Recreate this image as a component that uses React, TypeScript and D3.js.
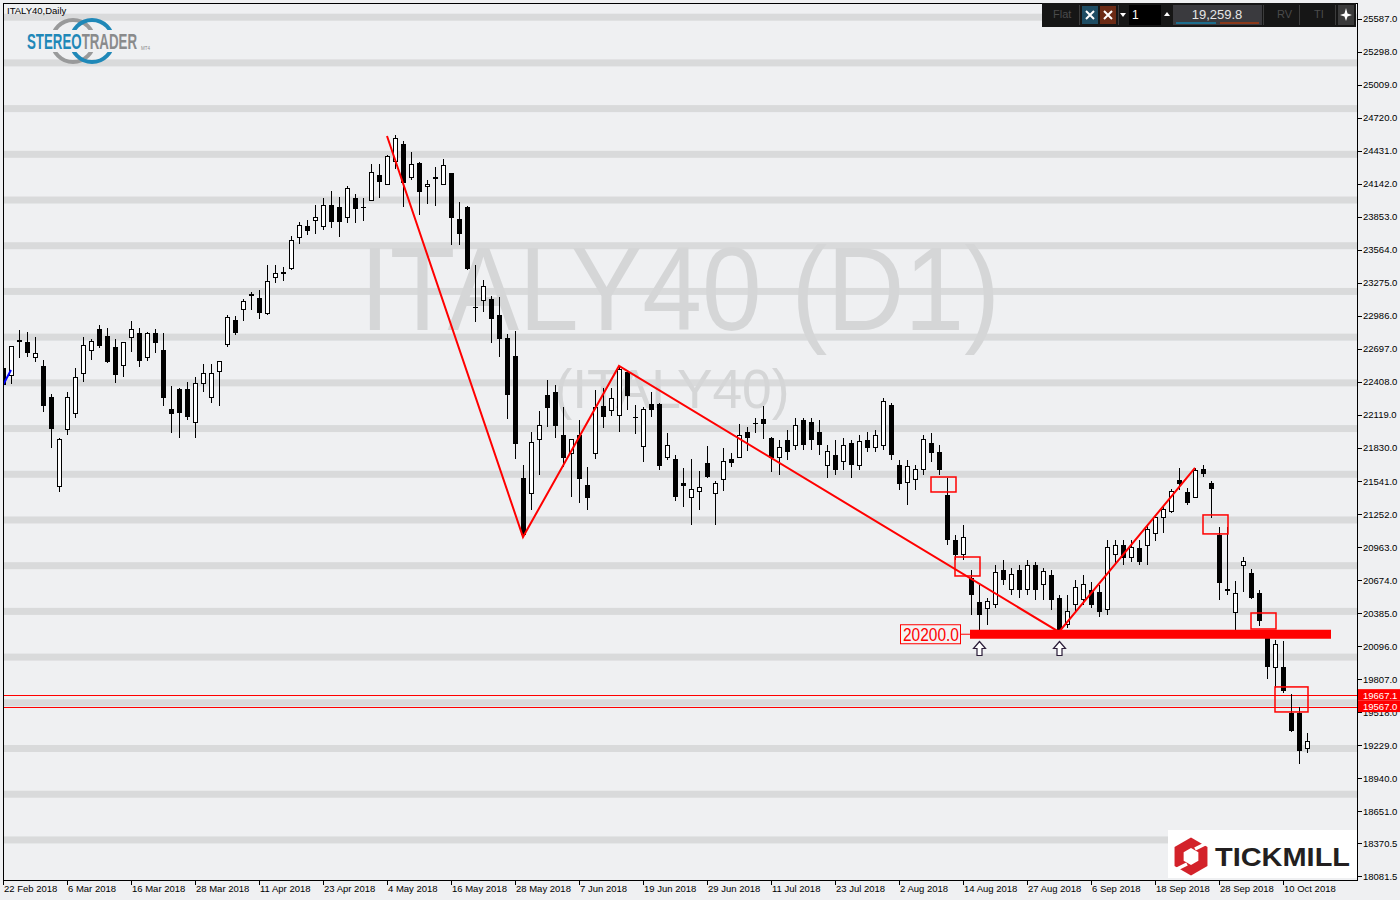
import React, { useEffect, useRef } from 'react';
import * as d3 from 'd3';

// daily OHLC, ITALY40, 22 Feb 2018 .. 15 Oct 2018
const opens = [
  22530, 22460, 22766, 22757, 22626, 22548, 22276, 21489, 21988, 22136,
  22486, 22679, 22871, 22810, 22714, 22556, 22801, 22836, 22626, 22836,
  22688, 22171, 22346, 22346, 22049, 22390, 22268, 22495, 22740, 22950,
  23038, 23178, 23143, 23011, 23326, 23353, 23405, 23676, 23773, 23825,
  23764, 23956, 23939, 23843, 24018, 23939, 24000, 24219, 24140, 24341,
  24490, 24193, 24324, 24114, 24193, 24140, 24236, 23834, 23939, 23064,
  23125, 23134, 22994, 22793, 22635, 21568, 21436, 21900, 22294, 22320,
  21944, 21778, 21944, 21506, 21786, 22198, 22154, 22110, 22495, 22101,
  21839, 22215, 22215, 21751, 21734, 21524, 21393, 21445, 21699, 21428,
  21550, 21734, 21743, 21970, 22049, 22084, 21918, 21743, 21900, 21856,
  22075, 22058, 21970, 21681, 21769, 21708, 21874, 21681, 21900, 21830,
  21856, 22206, 21681, 21524, 21550, 21638, 21874, 21795, 21419, 21025,
  20894, 20693, 20483, 20421, 20456, 20763, 20588, 20763, 20588, 20806,
  20631, 20719, 20518, 20281, 20456, 20500, 20588, 20570, 20413, 20894,
  20981, 20868, 20955, 20981, 21086, 21218, 21270, 21550, 21445, 21401,
  21646, 21524, 21069, 20596, 20386, 20806, 20736, 20561, 20211, 19905,
  19914, 19511, 19511, 19196,
];
const highs = [
  22600, 22723, 22863, 22845, 22801, 22600, 22303, 21918, 22320, 22530,
  22801, 22784, 22906, 22880, 22784, 22749, 22941, 22880, 22845, 22871,
  22836, 22373, 22355, 22408, 22451, 22565, 22565, 22591, 22994, 22985,
  23134, 23195, 23213, 23431, 23431, 23414, 23685, 23808, 23825, 23956,
  24018, 24079, 24026, 24123, 24053, 24018, 24315, 24315, 24394, 24569,
  24516, 24420, 24333, 24175, 24289, 24359, 24240, 23983, 23945, 23431,
  23300, 23160, 23151, 22828, 22854, 21681, 21970, 22154, 22425, 22381,
  22189, 21909, 22075, 21664, 22338, 22355, 22355, 22548, 22513, 22206,
  22189, 22320, 22224, 21961, 21769, 21655, 21734, 21629, 21848, 21541,
  21830, 21786, 22040, 22014, 22093, 22198, 21925, 21900, 21988, 22093,
  22093, 22093, 22075, 21856, 21900, 21918, 21900, 21944, 21970, 21988,
  22268, 22224, 21725, 21725, 21681, 21944, 21961, 21856, 21568, 21069,
  21156, 20763, 20631, 20518, 20806, 20850, 20780, 20806, 20850, 20833,
  20780, 20763, 20544, 20544, 20675, 20719, 20658, 20631, 21025, 21025,
  21025, 21025, 21025, 21156, 21244, 21323, 21471, 21655, 21480, 21655,
  21681, 21541, 21139, 21139, 20666, 20876, 20771, 20588, 20220, 20150,
  20141, 19678, 19564, 19336,
];
const lows = [
  22268, 22390, 22618, 22626, 22583, 22145, 21830, 21445, 21944, 22093,
  22408, 22600, 22705, 22574, 22399, 22451, 22670, 22539, 22591, 22661,
  22198, 21961, 21918, 22075, 21918, 22320, 22224, 22198, 22714, 22819,
  22941, 23038, 22959, 22994, 23274, 23291, 23388, 23615, 23694, 23703,
  23738, 23755, 23676, 23799, 23799, 23816, 23991, 24018, 24131, 24271,
  23939, 24175, 23869, 23965, 23948, 24131, 23606, 23606, 23388, 22933,
  23020, 22749, 22626, 22084, 21734, 21051, 21288, 21594, 22014, 21918,
  21664, 21401, 21349, 21288, 21734, 22005, 22110, 21970, 22163, 21953,
  21708, 22101, 21638, 21725, 21366, 21314, 21156, 21288, 21568, 21156,
  21454, 21664, 21740, 21804, 21961, 21909, 21620, 21594, 21725, 21813,
  21813, 21813, 21769, 21568, 21594, 21638, 21568, 21638, 21795, 21795,
  21813, 21725, 21463, 21331, 21463, 21594, 21708, 21594, 20981, 20850,
  20850, 20369, 20220, 20281, 20430, 20631, 20544, 20518, 20544, 20500,
  20500, 20413, 20220, 20255, 20395, 20456, 20430, 20351, 20369, 20806,
  20806, 20833, 20806, 20806, 21016, 21086, 21265, 21463, 21331, 21393,
  21576, 21218, 20500, 20544, 20194, 20570, 20509, 20273, 19809, 19730,
  19686, 19345, 19065, 19161,
];
const closes = [
  22381, 22714, 22775, 22661, 22661, 22198, 21996, 21900, 22268, 22451,
  22723, 22766, 22723, 22583, 22469, 22749, 22871, 22591, 22836, 22749,
  22268, 22128, 22136, 22101, 22390, 22486, 22478, 22591, 22968, 22836,
  23108, 23160, 23011, 23291, 23353, 23370, 23650, 23773, 23729, 23851,
  23948, 23808, 23808, 24105, 23921, 23930, 24245, 24158, 24385, 24534,
  24149, 24315, 24070, 24140, 24193, 24306, 23843, 23703, 23396, 23060,
  23239, 22959, 22784, 22294, 21865, 21069, 21874, 22023, 22180, 22023,
  21743, 21900, 21559, 21393, 22180, 22101, 22259, 22521, 22285, 22095,
  22171, 22163, 21673, 21856, 21401, 21498, 21471, 21480, 21576, 21515,
  21716, 21699, 21935, 21918, 22045, 22040, 21743, 21830, 21795, 22031,
  21856, 21900, 21856, 21795, 21638, 21856, 21681, 21883, 21830, 21935,
  22233, 21769, 21515, 21664, 21638, 21900, 21786, 21638, 21025, 20894,
  21043, 20544, 20369, 20483, 20736, 20675, 20719, 20588, 20806, 20588,
  20745, 20500, 20238, 20395, 20605, 20631, 20456, 20395, 20955, 20981,
  20868, 20955, 20833, 21113, 21226, 21296, 21445, 21515, 21349, 21629,
  21603, 21471, 20649, 20579, 20553, 20833, 20518, 20316, 19914, 20106,
  19704, 19354, 19179, 19260,
];

const dateLabels = [
  '22 Feb 2018', '6 Mar 2018', '16 Mar 2018', '28 Mar 2018', '11 Apr 2018',
  '23 Apr 2018', '4 May 2018', '16 May 2018', '28 May 2018', '7 Jun 2018',
  '19 Jun 2018', '29 Jun 2018', '11 Jul 2018', '23 Jul 2018', '2 Aug 2018',
  '14 Aug 2018', '27 Aug 2018', '6 Sep 2018', '18 Sep 2018', '28 Sep 2018',
  '10 Oct 2018',
];
const priceTicks = [
  25587.0, 25298.0, 25009.0, 24720.0, 24431.0, 24142.0, 23853.0, 23564.0,
  23275.0, 22986.0, 22697.0, 22408.0, 22119.0, 21830.0, 21541.0, 21252.0,
  20963.0, 20674.0, 20385.0, 20096.0, 19807.0, 19518.0, 19229.0, 18940.0,
  18651.0, 18370.5, 18081.5,
];
const bandLevels = [
  18400, 18800, 19200, 19600, 20000, 20400, 20800, 21200, 21600, 22000,
  22400, 22800, 23200, 23600, 24000, 24400, 24800, 25200, 25600,
];

// annotations
const zigzagBars = [48, 65, 77, 132, 149];
const zigzagPrices = [24560, 21051, 22548, 20220, 21655];
const boxFrom = [116, 119, 150, 156, 159];
const boxTo = [119, 122, 153, 159, 163];
const boxTop = [21576, 20876, 21244, 20386, 19739];
const boxBottom = [21445, 20710, 21078, 20246, 19520];
const supportLevel = 20200;
const supportFrom = 121;
const supportTo = 166;
const arrowBars = [122, 132];
const priceLines = [19667.1, 19567.0];
const blueBars = [0, 1];
const bluePrices = [22381, 22513];
const lastPrice = '19,259.8';

const BG = '#eff0f2';
const BAND = '#d9dadb';
const FONT = "'Liberation Sans', Arial, sans-serif";

const App: React.FC = () => {
  const svgRef = useRef<SVGSVGElement>(null);

  useEffect(() => {
    if (!svgRef.current) return;
    const svg = d3.select(svgRef.current);
    svg.selectAll('*').remove();

    const left = 3;
    const right = 1357;
    const top = 3;
    const bottom = 880;

    const x = d3.scaleLinear().domain([0, 163]).range([3, 1307]);
    const y = d3.scaleLinear().domain([18049.4, 25750.4]).range([880, 0]);

    svg.append('rect').attr('width', 1400).attr('height', 900).attr('fill', BG);

    svg.append('defs').append('clipPath').attr('id', 'plot')
      .append('rect')
      .attr('x', left).attr('y', top)
      .attr('width', right - left).attr('height', bottom - top);

    const plot = svg.append('g').attr('clip-path', 'url(#plot)');

    // background bands
    plot.selectAll('.band')
      .data(bandLevels)
      .enter()
      .append('rect')
      .attr('x', left)
      .attr('width', right - left)
      .attr('y', d => y(d) - 3.5)
      .attr('height', 7)
      .attr('fill', BAND);

    // watermark
    plot.append('text')
      .attr('x', 680).attr('y', 330)
      .attr('text-anchor', 'middle')
      .attr('textLength', 640)
      .attr('lengthAdjust', 'spacingAndGlyphs')
      .style('font-family', FONT)
      .style('font-size', '118px')
      .style('fill', '#d5d6d7')
      .text('ITALY40 (D1)');
    plot.append('text')
      .attr('x', 672).attr('y', 408)
      .attr('text-anchor', 'middle')
      .attr('textLength', 235)
      .attr('lengthAdjust', 'spacingAndGlyphs')
      .style('font-family', FONT)
      .style('font-size', '56px')
      .style('fill', '#d5d6d7')
      .text('(ITALY40)');

    // thin price lines
    plot.selectAll('.pline')
      .data(priceLines)
      .enter()
      .append('rect')
      .attr('x', left)
      .attr('width', right - left)
      .attr('y', d => Math.round(y(d)))
      .attr('height', 1)
      .attr('fill', '#ff0000');

    // candles
    const idx = d3.range(opens.length);
    const candles = plot.selectAll('.candle')
      .data(idx)
      .enter()
      .append('g')
      .attr('class', 'candle')
      .style('shape-rendering', 'crispEdges');

    candles.append('line')
      .attr('x1', i => Math.round(x(i)) + 0.5)
      .attr('x2', i => Math.round(x(i)) + 0.5)
      .attr('y1', i => y(highs[i]))
      .attr('y2', i => y(lows[i]))
      .attr('stroke', '#000')
      .attr('stroke-width', 1);

    candles.append('rect')
      .attr('x', i => (closes[i] >= opens[i] ? Math.round(x(i)) - 1.5 : Math.round(x(i)) - 2))
      .attr('width', i => (closes[i] >= opens[i] ? 4 : 5))
      .attr('y', i => y(Math.max(opens[i], closes[i])))
      .attr('height', i => Math.max(1, Math.abs(y(opens[i]) - y(closes[i]))))
      .attr('fill', i => (closes[i] >= opens[i] ? '#fff' : '#000'))
      .attr('stroke', i => (closes[i] >= opens[i] ? '#000' : 'none'))
      .attr('stroke-width', 1);

    // zigzag
    const zz = d3.line<number>()
      .x(k => x(zigzagBars[k]))
      .y(k => y(zigzagPrices[k]));
    plot.append('path')
      .attr('d', zz(d3.range(zigzagBars.length)))
      .attr('fill', 'none')
      .attr('stroke', '#ff0000')
      .attr('stroke-width', 2);

    // small blue segment at the left edge
    plot.append('line')
      .attr('x1', x(blueBars[0])).attr('y1', y(bluePrices[0]))
      .attr('x2', x(blueBars[1])).attr('y2', y(bluePrices[1]))
      .attr('stroke', '#0000ff')
      .attr('stroke-width', 2);

    // red boxes
    plot.selectAll('.box')
      .data(d3.range(boxFrom.length))
      .enter()
      .append('rect')
      .attr('x', k => x(boxFrom[k]))
      .attr('y', k => y(boxTop[k]))
      .attr('width', k => x(boxTo[k]) - x(boxFrom[k]) + 1)
      .attr('height', k => y(boxBottom[k]) - y(boxTop[k]))
      .attr('fill', 'none')
      .attr('stroke', '#ff0000')
      .attr('stroke-width', 1.5);

    // support level
    const sy = y(supportLevel);
    plot.append('rect')
      .attr('x', x(supportFrom) - 1)
      .attr('width', x(supportTo) - x(supportFrom) + 1)
      .attr('y', sy - 4.5)
      .attr('height', 9)
      .attr('fill', '#ff0000');
    plot.append('line')
      .attr('x1', x(supportFrom) - 10).attr('x2', x(supportFrom))
      .attr('y1', sy).attr('y2', sy)
      .attr('stroke', '#ff0000');
    plot.append('rect')
      .attr('x', x(supportFrom) - 70.5)
      .attr('y', sy - 9.5)
      .attr('width', 60)
      .attr('height', 19)
      .attr('fill', '#f3f3f4')
      .attr('stroke', '#ff0000')
      .attr('stroke-width', 1);
    plot.append('text')
      .attr('x', x(supportFrom) - 40)
      .attr('y', sy + 6.5)
      .attr('text-anchor', 'middle')
      .attr('textLength', 56)
      .attr('lengthAdjust', 'spacingAndGlyphs')
      .style('font-family', FONT)
      .style('font-size', '18px')
      .style('fill', '#ff0000')
      .text(supportLevel.toFixed(1));

    // up arrows under the level
    plot.selectAll('.arrow')
      .data(arrowBars)
      .enter()
      .append('path')
      .attr('d', b => {
        const cx = Math.round(x(b)) + 0.5;
        const ty = Math.round(sy) + 7.5;
        return `M${cx},${ty} L${cx + 6},${ty + 7} L${cx + 2.5},${ty + 7} L${cx + 2.5},${ty + 14} L${cx - 2.5},${ty + 14} L${cx - 2.5},${ty + 7} L${cx - 6},${ty + 7} Z`;
      })
      .attr('fill', '#fff')
      .attr('stroke', '#2b1d3a')
      .attr('stroke-width', 1.2);

    // frame and axes
    const frame = svg.append('g').style('shape-rendering', 'crispEdges');
    frame.append('line').attr('x1', left + 0.5).attr('x2', left + 0.5).attr('y1', top).attr('y2', bottom + 0.5).attr('stroke', '#000');
    frame.append('line').attr('x1', left).attr('x2', right).attr('y1', top + 0.5).attr('y2', top + 0.5).attr('stroke', '#000');
    frame.append('line').attr('x1', right + 0.5).attr('x2', right + 0.5).attr('y1', top).attr('y2', bottom + 0.5).attr('stroke', '#000');
    frame.append('line').attr('x1', left).attr('x2', right + 1).attr('y1', bottom + 0.5).attr('y2', bottom + 0.5).attr('stroke', '#000');

    const yTicks = svg.append('g');
    yTicks.selectAll('line')
      .data(priceTicks)
      .enter()
      .append('line')
      .attr('x1', right + 1).attr('x2', right + 5)
      .attr('y1', d => Math.round(Math.max(y(d), 14)) + 0.5)
      .attr('y2', d => Math.round(Math.max(y(d), 14)) + 0.5)
      .attr('stroke', '#000');
    yTicks.selectAll('text')
      .data(priceTicks)
      .enter()
      .append('text')
      .attr('x', right + 6)
      .attr('y', d => Math.max(y(d), 14) + 3.5)
      .style('font-family', FONT)
      .style('font-size', '9.5px')
      .style('fill', '#000')
      .text(d => d.toFixed(1));

    const xTicks = svg.append('g');
    xTicks.selectAll('line')
      .data(dateLabels)
      .enter()
      .append('line')
      .attr('x1', (_, k) => Math.round(x(k * 8)) + 0.5)
      .attr('x2', (_, k) => Math.round(x(k * 8)) + 0.5)
      .attr('y1', bottom).attr('y2', bottom + 5)
      .attr('stroke', '#000');
    xTicks.selectAll('text')
      .data(dateLabels)
      .enter()
      .append('text')
      .attr('x', (_, k) => x(k * 8) + 1)
      .attr('y', bottom + 12)
      .style('font-family', FONT)
      .style('font-size', '9.5px')
      .style('fill', '#000')
      .text(d => d);

    // red price tags on the axis
    const tags = svg.selectAll('.tag')
      .data(priceLines)
      .enter()
      .append('g');
    tags.append('rect')
      .attr('x', right + 1)
      .attr('y', d => y(d) - 6)
      .attr('width', 43)
      .attr('height', 11.5)
      .attr('fill', '#ff0000');
    tags.append('text')
      .attr('x', right + 6)
      .attr('y', d => y(d) + 3.5)
      .style('font-family', FONT)
      .style('font-size', '9.5px')
      .style('fill', '#fff')
      .text(d => d.toFixed(1));

    // title
    svg.append('text')
      .attr('x', 7).attr('y', 14)
      .style('font-family', FONT)
      .style('font-size', '9.5px')
      .style('fill', '#000')
      .text('ITALY40,Daily');

    // StereoTrader logo
    const logo = svg.append('g');
    logo.append('circle').attr('cx', 73).attr('cy', 41).attr('r', 21)
      .attr('fill', 'none').attr('stroke', '#999a9b').attr('stroke-width', 4);
    logo.append('circle').attr('cx', 92).attr('cy', 41).attr('r', 21)
      .attr('fill', 'none').attr('stroke', '#1f88b8').attr('stroke-width', 4);
    logo.append('rect').attr('x', 24).attr('y', 30).attr('width', 118).attr('height', 22).attr('fill', BG);
    const word = logo.append('text')
      .attr('x', 27).attr('y', 49)
      .attr('textLength', 110)
      .attr('lengthAdjust', 'spacingAndGlyphs')
      .style('font-family', "'Liberation Sans Narrow', 'Liberation Sans', sans-serif")
      .style('font-weight', 'bold')
      .style('font-size', '22px');
    word.append('tspan').style('fill', '#1f88b8').text('STEREO');
    word.append('tspan').style('fill', '#8a8b8c').text('TRADER');
    logo.append('text')
      .attr('x', 141).attr('y', 50)
      .style('font-family', FONT)
      .style('font-size', '4.5px')
      .style('fill', '#8a8b8c')
      .text('MT4');

    // Tickmill logo
    const tm = svg.append('g');
    tm.append('rect').attr('x', 1168).attr('y', 830).attr('width', 189).attr('height', 48).attr('fill', '#fff');
    const hex = (cx: number, cy: number, r: number) =>
      d3.range(6).map(k => {
        const a = Math.PI / 2 + (k * Math.PI) / 3;
        return `${cx + r * Math.cos(a)},${cy - r * Math.sin(a)}`;
      }).join(' ');
    tm.append('polygon').attr('points', hex(1191, 856.5, 19)).attr('fill', '#d3222a');
    tm.append('polygon').attr('points', hex(1191, 856.5, 8.5)).attr('fill', '#fff');
    tm.append('line').attr('x1', 1195).attr('y1', 849).attr('x2', 1207).attr('y2', 843)
      .attr('stroke', '#fff').attr('stroke-width', 3.5);
    tm.append('line').attr('x1', 1187).attr('y1', 864).attr('x2', 1175).attr('y2', 870)
      .attr('stroke', '#fff').attr('stroke-width', 3.5);
    tm.append('text')
      .attr('x', 1215).attr('y', 866)
      .attr('textLength', 135)
      .attr('lengthAdjust', 'spacingAndGlyphs')
      .style('font-family', FONT)
      .style('font-weight', 'bold')
      .style('font-size', '25px')
      .style('fill', '#231f20')
      .text('TICKMILL');

    // trading toolbar
    const tb = svg.append('g').style('font-family', FONT);
    tb.append('rect').attr('x', 1042).attr('y', 3).attr('width', 314).attr('height', 24).attr('fill', '#161616');
    [1079, 1118, 1263, 1299, 1335].forEach(sx => {
      tb.append('line').attr('x1', sx + 0.5).attr('x2', sx + 0.5).attr('y1', 5).attr('y2', 25)
        .attr('stroke', '#3c3c3c');
    });
    tb.append('text').attr('x', 1053).attr('y', 18).style('font-size', '11px').style('fill', '#4b4b4b').text('Flat');
    const xBtn = (bx: number, col: string) => {
      tb.append('rect').attr('x', bx).attr('y', 6).attr('width', 16).attr('height', 18).attr('fill', col);
      tb.append('path')
        .attr('d', `M${bx + 4},${11} L${bx + 12},${19} M${bx + 12},${11} L${bx + 4},${19}`)
        .attr('stroke', '#fff').attr('stroke-width', 2);
    };
    xBtn(1082, '#1d4c63');
    xBtn(1100, '#6c2b15');
    tb.append('path').attr('d', 'M1120,13 L1126,13 L1123,17 Z').attr('fill', '#fff');
    tb.append('rect').attr('x', 1129).attr('y', 5).attr('width', 32).attr('height', 20).attr('fill', '#000');
    tb.append('text').attr('x', 1132).attr('y', 19).style('font-size', '12px').style('fill', '#fff').text('1');
    tb.append('path').attr('d', 'M1164,16 L1170,16 L1167,12 Z').attr('fill', '#fff');
    tb.append('rect').attr('x', 1173).attr('y', 5).attr('width', 89).attr('height', 20).attr('fill', '#3a3a3e');
    tb.append('text').attr('x', 1217).attr('y', 19).attr('text-anchor', 'middle')
      .style('font-size', '13px').style('fill', '#e6e6e6').text(lastPrice);
    tb.append('rect').attr('x', 1176).attr('y', 22).attr('width', 40).attr('height', 2).attr('fill', '#1d6e8e');
    tb.append('rect').attr('x', 1220).attr('y', 22).attr('width', 39).attr('height', 2).attr('fill', '#8b3a1a');
    tb.append('text').attr('x', 1277).attr('y', 18).style('font-size', '11px').style('fill', '#4b4b4b').text('RV');
    tb.append('text').attr('x', 1314).attr('y', 18).style('font-size', '11px').style('fill', '#4b4b4b').text('TI');
    tb.append('rect').attr('x', 1338).attr('y', 5).attr('width', 16).attr('height', 20).attr('fill', '#3a3a3a');
    tb.append('path')
      .attr('d', 'M1346,8 L1347.5,13.5 L1352,15 L1347.5,16.5 L1346,21 L1344.5,16.5 L1340,15 L1344.5,13.5 Z')
      .attr('fill', '#fff');
  }, []);

  return (
    <svg
      ref={svgRef}
      width={1400}
      height={900}
      style={{ position: 'absolute', left: 0, top: 0, display: 'block' }}
    />
  );
};

export default App;
